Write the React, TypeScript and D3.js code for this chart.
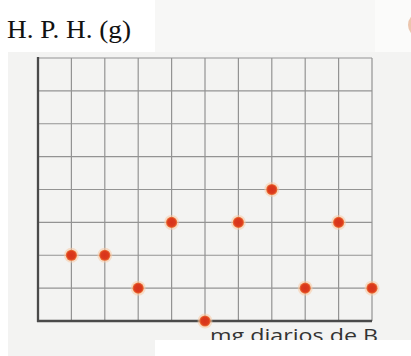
import React from "react";
import * as d3 from "d3";

// Daily milligrams of B (column index) and H. P. H. in grams (row index)
const doses = [1, 2, 3, 4, 5, 6, 7, 8, 9, 10];
const hph = [2, 2, 1, 3, 0, 3, 4, 1, 3, 1];
const xTicks = d3.range(0, 11);
const yTicks = d3.range(0, 9);
const yTitle = "H. P. H. (g)";
const xTitle = "mg diarios de B";

const W = 411;
const H = 356;

export default function App() {
  const x = d3.scaleLinear().domain([0, 10]).range([38, 372]);
  const y = d3.scaleLinear().domain([0, 8]).range([321, 58]);
  const pts = doses.map((d, i) => ({ d, v: hph[i] }));

  return (
    <svg
      width={W}
      height={H}
      style={{ position: "absolute", left: 0, top: 0 }}
      fontFamily="Liberation Serif"
    >
      <defs>
        <radialGradient id="dot" cx="50%" cy="50%" r="50%">
          <stop offset="0%" stopColor="#d8321a" />
          <stop offset="70%" stopColor="#dc3b1c" />
          <stop offset="100%" stopColor="#ee7a3c" />
        </radialGradient>
        <clipPath id="labelClip">
          <rect x={0} y={0} width={W} height={340} />
        </clipPath>
      </defs>

      {/* page */}
      <rect x={0} y={0} width={W} height={H} fill="#ffffff" />
      <rect x={8} y={52} width={W - 8} height={H - 52} fill="#f3f3f2" />
      <rect x={155} y={0} width={W - 155} height={52} fill="#f7f7f6" />
      <rect x={0} y={0} width={155} height={52} fill="#ffffff" />
      <rect x={375} y={0} width={36} height={52} fill="#fbfbfa" />
      <circle cx={421} cy={25} r={13} fill="#e9b89a" opacity={0.8} />

      {/* grid */}
      <g stroke="#939393" strokeWidth={1.2}>
        {xTicks.map((t) => (
          <line key={"v" + t} x1={x(t)} x2={x(t)} y1={y(8)} y2={y(0)} />
        ))}
        {yTicks.map((t) => (
          <line key={"h" + t} x1={x(0)} x2={x(10)} y1={y(t)} y2={y(t)} />
        ))}
      </g>

      {/* axes */}
      <line x1={x(0)} x2={x(0)} y1={y(8) - 1} y2={y(0) + 1} stroke="#4a4a4a" strokeWidth={2.3} />
      <line x1={x(0) - 1} x2={x(10)} y1={y(0)} y2={y(0)} stroke="#4a4a4a" strokeWidth={2.3} />

      {/* points */}
      {pts.map((p, i) => (
        <g key={i}>
          <circle cx={x(p.d)} cy={y(p.v)} r={7.5} fill="#f7c9a4" opacity={0.55} />
          <circle cx={x(p.d)} cy={y(p.v)} r={5.6} fill="url(#dot)" />
        </g>
      ))}

      {/* titles */}
      <text x={7} y={37.5} fontSize={25} fill="#111" textLength={124} lengthAdjust="spacingAndGlyphs">
        {yTitle}
      </text>
      <g clipPath="url(#labelClip)">
        <text
          x={210}
          y={342}
          fontSize={19}
          fontFamily="Open Sans"
          fill="#333"
          textLength={168}
          lengthAdjust="spacingAndGlyphs"
        >
          {xTitle}
        </text>
      </g>
      <rect x={155} y={340} width={W - 155} height={H - 340} fill="#ffffff" />
    </svg>
  );
}
